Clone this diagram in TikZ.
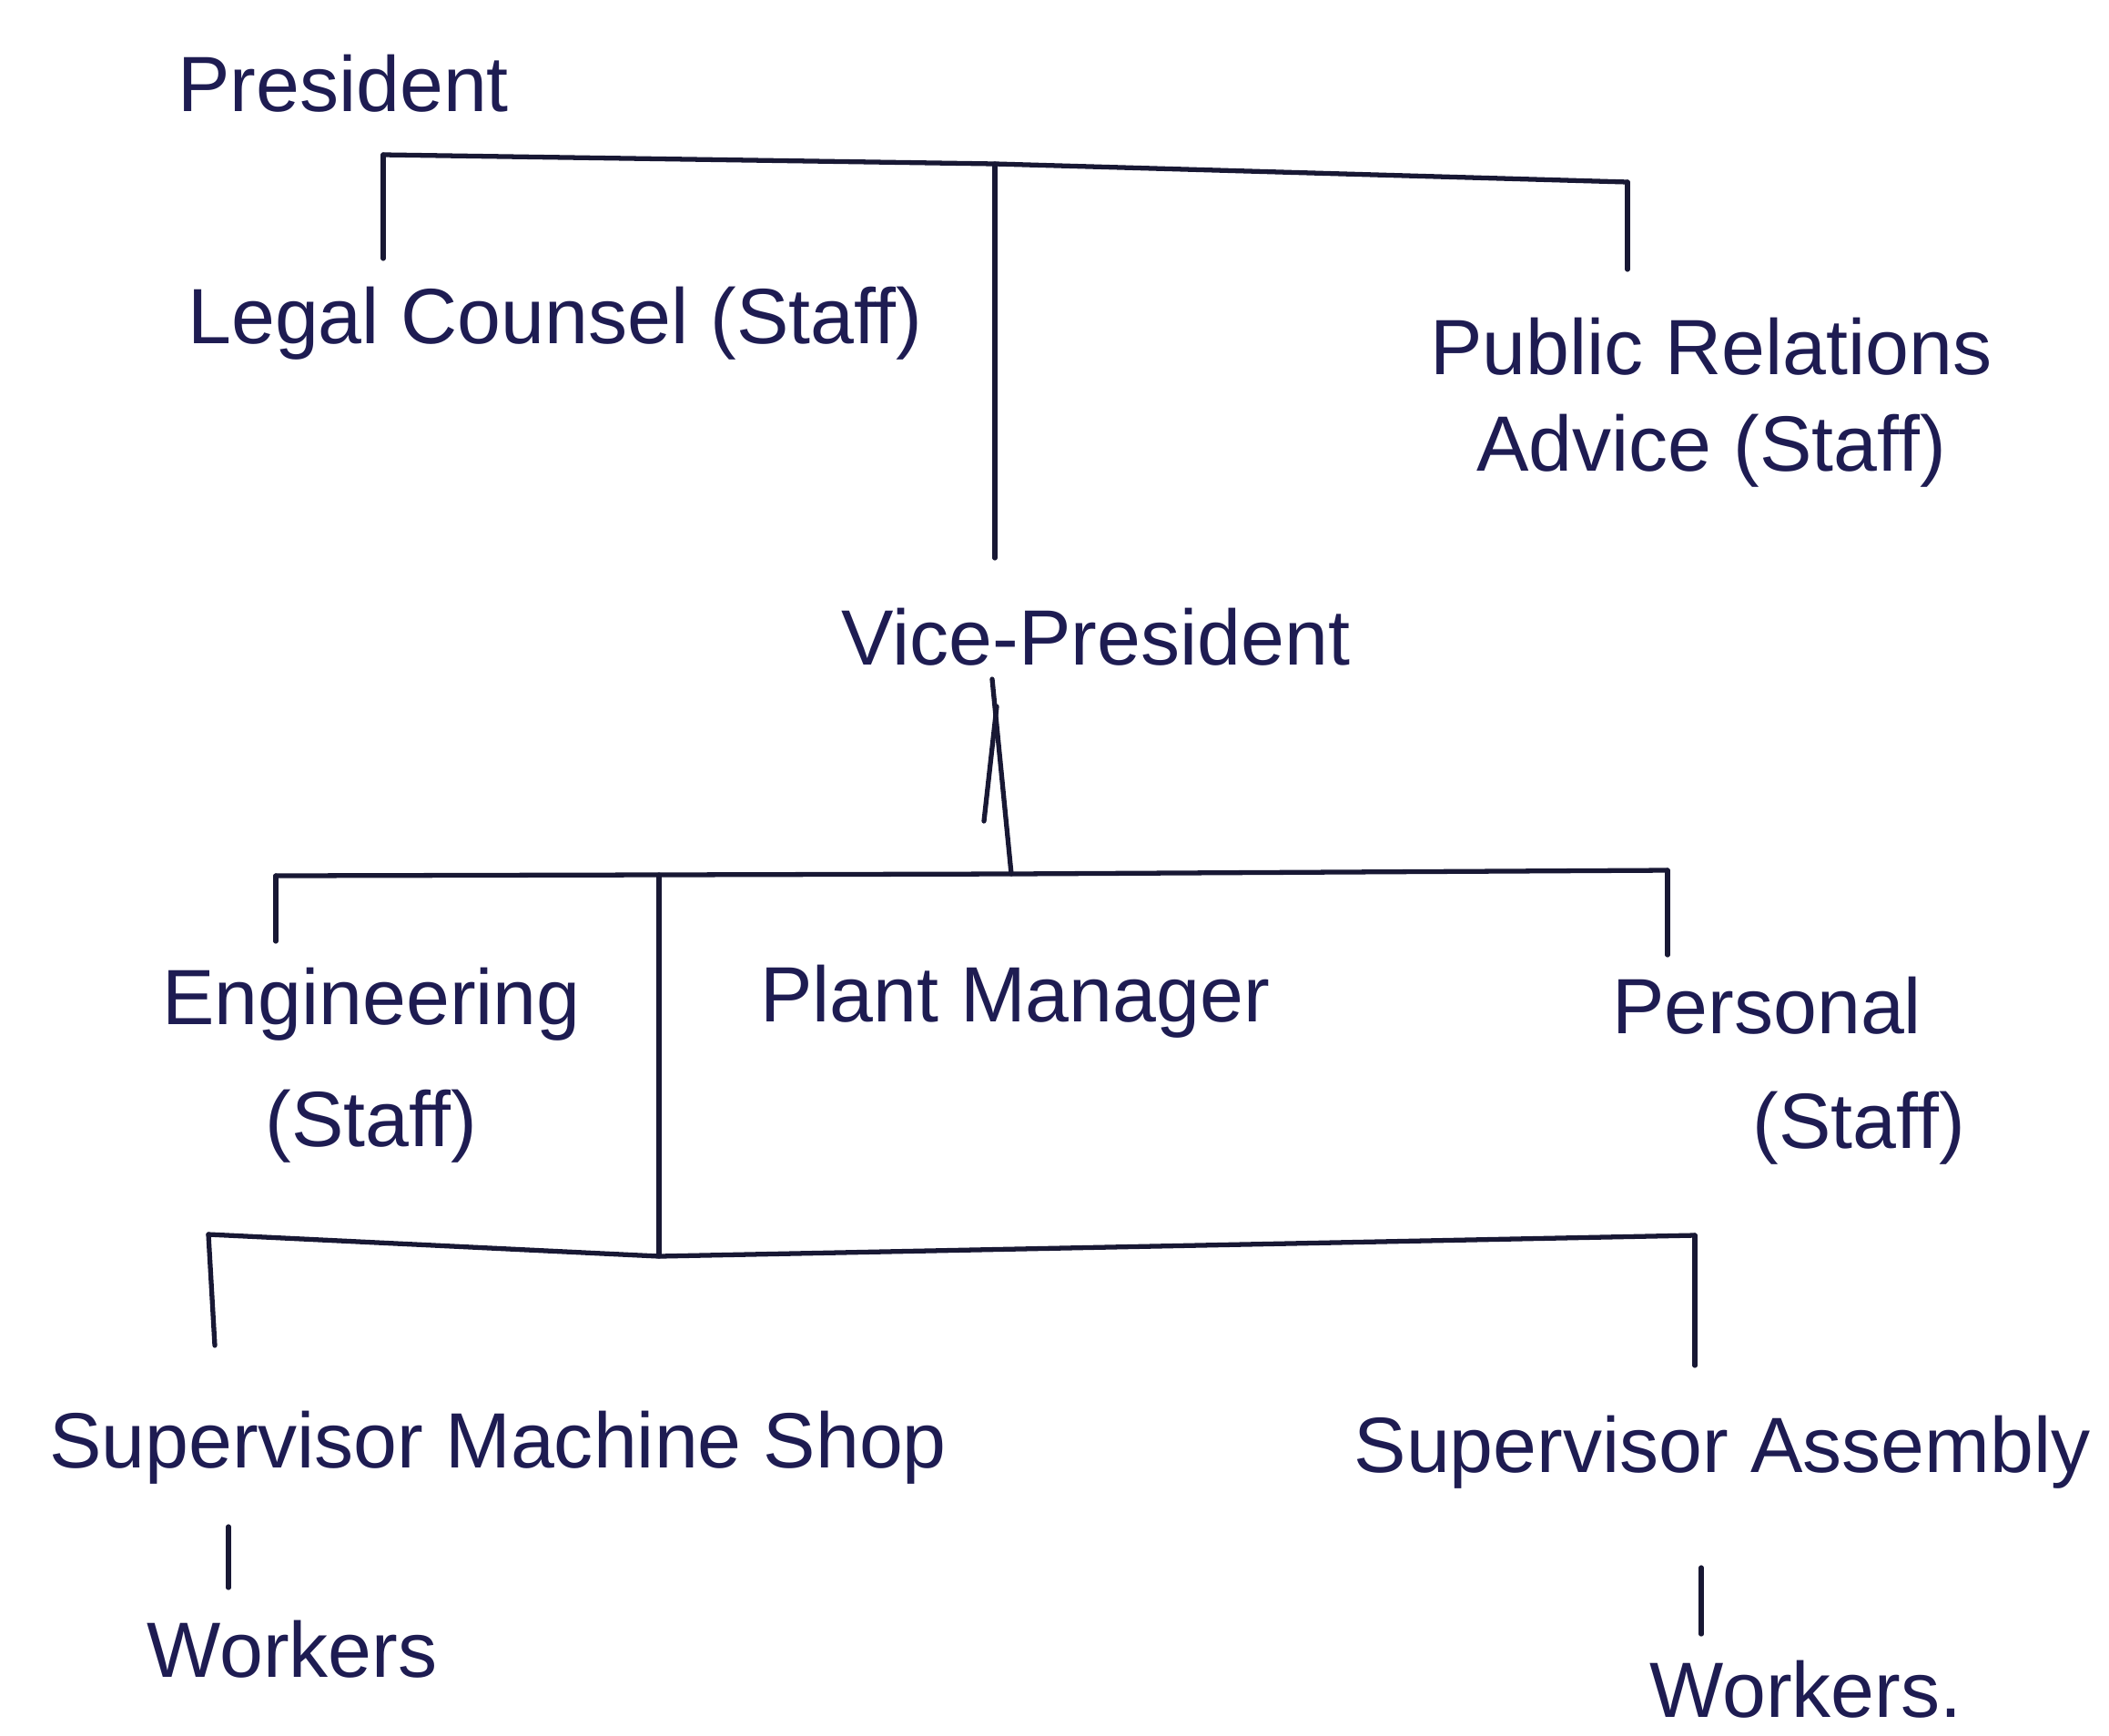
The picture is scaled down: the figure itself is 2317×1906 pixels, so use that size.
\documentclass[tikz,border=0pt]{standalone}
\usepackage{fontspec}
\setmainfont{Liberation Sans}
\usetikzlibrary{calc}
\definecolor{ink}{RGB}{30,28,82}
\definecolor{pen}{RGB}{24,24,52}
\begin{document}
\begin{tikzpicture}[x=0.1mm,y=-0.1mm,
  post/.style={text=ink, font=\fontsize{24.5}{30}\selectfont, inner sep=0pt, align=center},
  bar/.style={draw=pen, line width=1.5pt, line cap=round, line join=round}]
\useasboundingbox[fill=white] (0,0) rectangle (2317,1906);

% posts
\node[post] (pres)  at (377,92)    {President};
\node[post] (legal) at (610,355)   {Legal Counsel (Staff)};
\node[post] (pr)    at (1880,442)  {Public Relations\\Advice (Staff)};
\node[post] (vp)    at (1204,700)  {Vice-President};
\node[post] (eng)   at (408,1170)  {Engineering\\[8pt](Staff)};
\node[post] (plant) at (1115,1100) {Plant Manager};
\node[post, align=left] (pers) at (1965,1176) {Personal\\[6pt]\hspace*{4.5em}\llap{(Staff)}};
\node[post] (supm)  at (547,1590)  {Supervisor Machine Shop};
\node[post] (supa)  at (1892,1595) {Supervisor Assembly};
\node[post] (wk1)   at (321,1812)  {Workers};
\node[post] (wk2)   at (1984,1856) {Workers.};

% president level bar
\coordinate (t1) at (421,170);
\coordinate (t2) at (1093,180);
\coordinate (t3) at (1788,200);
\coordinate (t1e) at (421,284);
\coordinate (t3e) at (1788,296);
\coordinate (t2e) at (1093,613);
\draw[bar] (t1) -- (t2) -- (t3);
\draw[bar] (t1) -- (t1e);
\draw[bar] (t3) -- (t3e);
\draw[bar] (t2) -- (t2e);

% vice-president level bar with the upward arrow
\coordinate (b1) at (303,962);
\coordinate (bm) at (724,961);
\coordinate (b2) at (1111,960);
\coordinate (b3) at (1832,956);
\coordinate (b1e) at (303,1034);
\coordinate (b3e) at (1832,1049);
\coordinate (tip) at (1090,746);
\coordinate (barbj) at (1095,776);
\coordinate (barbe) at (1081,902);
\draw[bar] (b1) -- (bm) -- (b2) -- (b3);
\draw[bar] (b1) -- (b1e);
\draw[bar] (b3) -- (b3e);
\draw[bar] (b2) -- (tip);
\draw[bar] (barbj) -- (barbe);

% plant manager line and supervisor bar
\coordinate (c1) at (229,1356);
\coordinate (c2) at (724,1380);
\coordinate (c3) at (1862,1357);
\coordinate (c1e) at (236,1478);
\coordinate (c3e) at (1862,1500);
\draw[bar] (bm) -- (c2);
\draw[bar] (c1) -- (c2) -- (c3);
\draw[bar] (c1) -- (c1e);
\draw[bar] (c3) -- (c3e);

% supervisors to workers
\coordinate (w1a) at (251,1677);
\coordinate (w1b) at (251,1744);
\coordinate (w2a) at (1869,1722);
\coordinate (w2b) at (1869,1795);
\draw[bar] (w1a) -- (w1b);
\draw[bar] (w2a) -- (w2b);
\end{tikzpicture}
\end{document}
